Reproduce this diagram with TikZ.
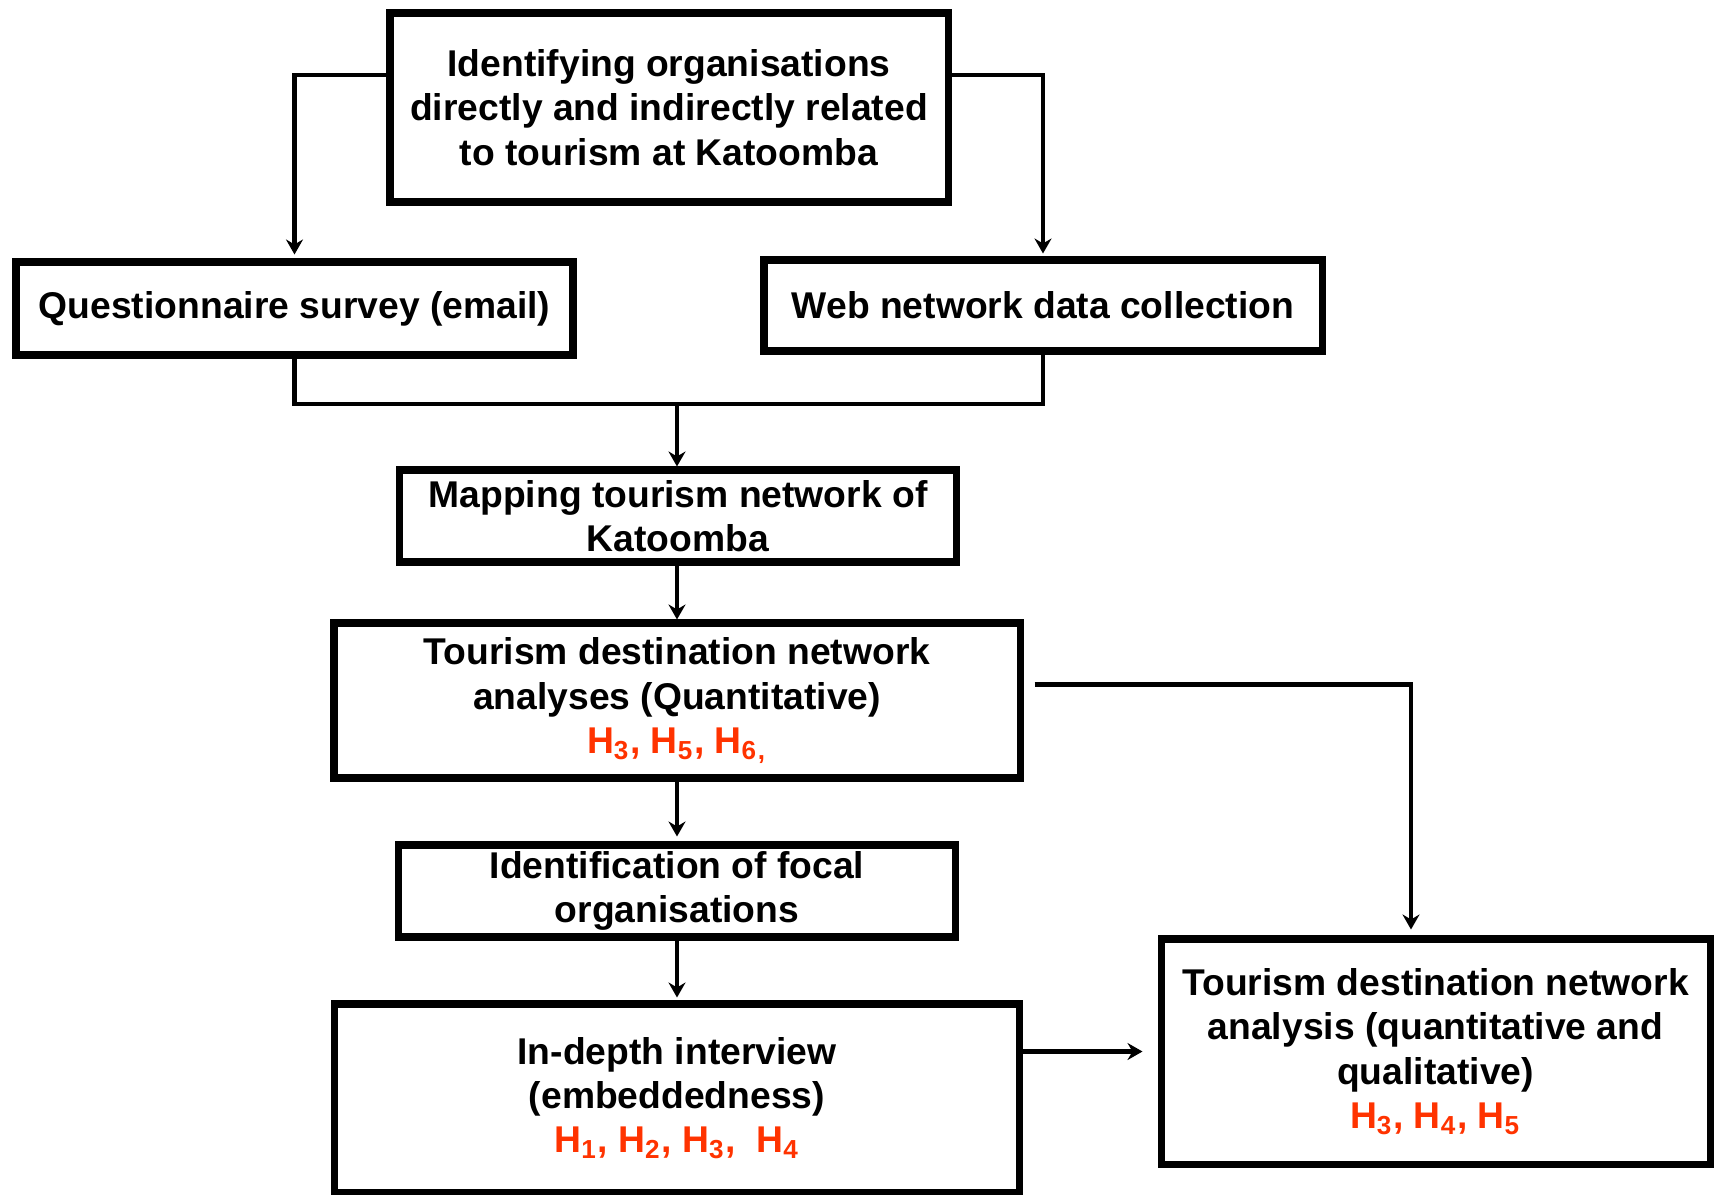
\documentclass[tikz,border=0pt]{standalone}
\usepackage{fontspec}
\setmainfont{Liberation Sans}
\usepackage{xcolor}
\usetikzlibrary{arrows.meta}
\definecolor{hypred}{RGB}{255,51,0}
\newcommand{\hyp}[1]{H\textsubscript{#1}}

\begin{document}
\begin{tikzpicture}[
	stagebox/.style={draw, line width=2pt, align=center, inner sep=0pt, font=\bfseries\fontsize{10.6}{12.6}\selectfont},
	link/.style={line width=1.2pt},
	flow/.style={link, -{Stealth[length=1.5mm, width=1.7mm, inset=0.5mm]}}
	]
		\useasboundingbox (0,0) rectangle (17.15,11.94);
		
		\node[stagebox, minimum width=5.58cm, minimum height=1.89cm] (ident) at (6.69,10.865) {Identifying organisations\\directly and indirectly related\\to tourism at Katoomba};
		\node[stagebox, minimum width=5.57cm, minimum height=0.93cm] (quest) at (2.945,8.855) {Questionnaire survey (email)};
		\node[stagebox, minimum width=5.58cm, minimum height=0.91cm] (web) at (10.43,8.885) {Web network data collection};
		\node[stagebox, minimum width=5.57cm, minimum height=0.92cm] (map) at (6.78,6.78) {Mapping tourism network of\\Katoomba};
		\node[stagebox, minimum width=6.86cm, minimum height=1.55cm] (tda) at (6.77,4.935) {Tourism destination network\\analyses (Quantitative)\\\textcolor{hypred}{\hyp{3}, \hyp{5}, \hyp{6}\textsubscript{,}}};
		\node[stagebox, minimum width=5.57cm, minimum height=0.92cm] (focal) at (6.77,3.03) {Identification of focal\\organisations};
		\node[stagebox, minimum width=6.85cm, minimum height=1.88cm] (interview) at (6.77,0.96) {In-depth interview\\(embeddedness)\\\textcolor{hypred}{\hyp{1}, \hyp{2}, \hyp{3}, \ \hyp{4}}};
		\node[stagebox, minimum width=5.49cm, minimum height=2.25cm] (mixed) at (14.355,1.425) {Tourism destination network\\analysis (quantitative and\\qualitative)\\\textcolor{hypred}{\hyp{3}, \hyp{4}, \hyp{5}}};
		
		% data collection branches
		\draw[flow, shorten >=0.4mm] ([yshift=0.325cm]ident.west) -| (quest.north);
		\draw[flow, shorten >=0.3mm] ([yshift=0.325cm]ident.east) -| (web.north);
		\coordinate (join) at (6.77,7.90);
		\draw[link] (quest.south) |- (join) -| (web.south);
		\draw[flow] (join) -- (join |- map.north);
		
		% analysis chain
		\draw[flow] (map.south -| tda.north) -- (tda.north);
		\draw[flow, shorten >=0.5mm] (tda.south) -- (focal.north);
		\draw[flow, shorten >=0.3mm] (focal.south) -- (interview.north);
		\draw[flow, shorten >=0.6mm] ([shift={(0.11,0.16)}]tda.east) -| ([xshift=-0.245cm]mixed.north);
		\draw[flow, shorten >=1.5mm] (interview.east |- mixed.west) -- (mixed.west);
	\end{tikzpicture}
\end{document}
